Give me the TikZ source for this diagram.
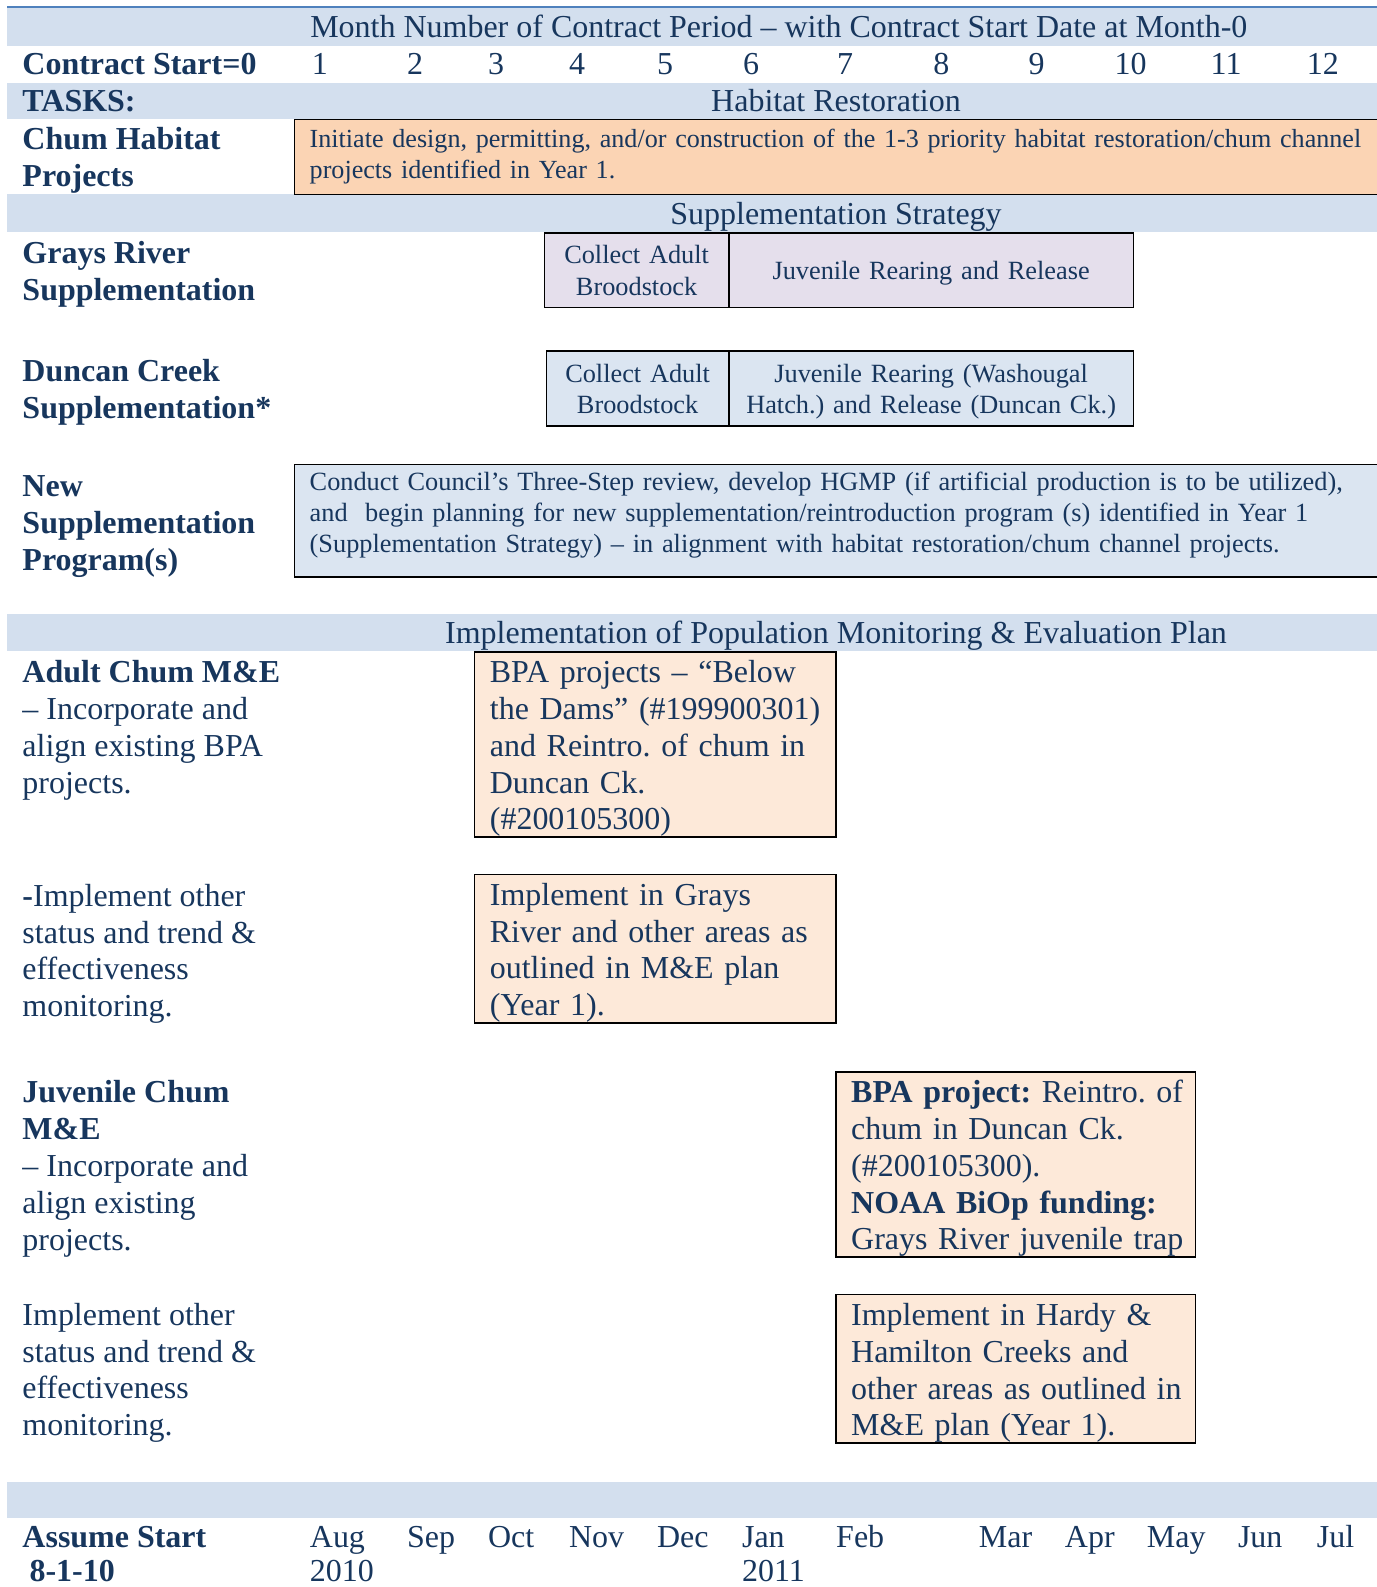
\documentclass[tikz,border=0pt]{standalone}
\usepackage{fontspec}
\setmainfont{Liberation Serif}
\definecolor{navy}{RGB}{23,54,93}
\definecolor{band}{RGB}{211,223,238}
\definecolor{chumfill}{RGB}{251,212,180}
\definecolor{lav}{RGB}{229,223,236}
\definecolor{lblue}{RGB}{219,229,241}
\definecolor{peach}{RGB}{253,233,217}
\definecolor{topline}{RGB}{79,129,189}
\newcommand{\lnx}[1]{\makebox[0pt][l]{#1}}
\newcommand{\topr}{\rule{0pt}{30pt}}
\newcommand{\botr}{\rule[-7pt]{0pt}{7pt}}
\newcommand{\stopr}{\rule{0pt}{27.7pt}}
\tikzset{
  big/.style={font=\fontsize{31.6}{36.5}\selectfont\frenchspacing},
  bigb/.style={font=\fontsize{31.6}{36.5}\selectfont\bfseries},
  small/.style={font=\fontsize{26}{31}\selectfont\frenchspacing},
  txt/.style={text=navy, inner sep=0pt},
  lbl/.style={txt, big, anchor=north west, align=left, yshift=25.55pt},
  lblb/.style={lbl, bigb},
  one/.style={txt, big, anchor=base west},
  oneb/.style={txt, bigb, anchor=base west},
  mid/.style={txt, big, anchor=base},
  gbox/.style={draw=black, line width=1.6pt, text=navy, anchor=north west, outer sep=0pt,
    inner xsep=15pt, inner ysep=0pt, align=left},
  sbox/.style={gbox, inner xsep=4pt, align=center},
}
\begin{document}
\frenchspacing
\begin{tikzpicture}[x=1pt,y=-1pt]
\useasboundingbox (0,0) rectangle (1360,1568);
% bands
\fill[band] (7,8) rectangle (1362,45);
\fill[band] (7,82) rectangle (1362,118);
\fill[band] (7,192) rectangle (1362,229);
\fill[band] (7,607) rectangle (1362,643);
\fill[band] (7,1464) rectangle (1362,1500);
\draw[topline, line width=2pt] (7,7) -- (1362,7);
% header rows
\node[mid] (hdr) at (769.5,37) {Month Number of Contract Period – with Contract Start Date at Month-0};
\node[oneb] (cs) at (22,74) {Contract Start=0};
\foreach \n/\x in {1/308,2/402,3/482,4/562,5/649,6/734,7/827,8/922,9/1016,10/1101,11/1196,12/1291}
  \node[one] (m\n) at (\x,74) {\n};
\node[oneb] (tasks) at (22,110) {TASKS:};
\node[mid] (hab) at (826,110) {Habitat Restoration};
% chum habitat
\node[lblb] (chuml) at (22,148) {\strut Chum Habitat\\Projects};
\node[gbox, small, font=\fontsize{25.8}{31}\selectfont\frenchspacing, fill=chumfill, minimum width=1071pt, minimum height=74pt, text width=1041pt] (chum) at (291,118)
  {\lnx{\strut Initiate design, permitting, and/or construction of the 1-3 priority habitat restoration/chum channel}\\\lnx{projects identified in Year 1.\strut}};
% supplementation
\node[mid] (sup) at (826,222) {Supplementation Strategy};
\node[lblb] (grl) at (22,260) {\strut Grays River\\Supplementation};
\node[sbox, small, fill=lav, minimum width=182pt, minimum height=74pt, text width=174pt] (gr1) at (538,230) {\stopr Collect Adult\\Broodstock\strut};
\node[sbox, small, fill=lav, minimum width=400pt, minimum height=74pt, text width=392pt] (gr2) at (720,230) {\stopr Juvenile Rearing and Release\strut};
\node[lblb] (dcl) at (22,377) {\strut Duncan Creek\\Supplementation*};
\node[sbox, small, fill=lblue, minimum width=180pt, minimum height=74pt, text width=172pt] (dc1) at (540,347) {\stopr Collect Adult\\Broodstock\strut};
\node[sbox, small, fill=lblue, minimum width=400pt, minimum height=74pt, text width=392pt] (dc2) at (720,347) {\stopr Juvenile Rearing (Washougal\\Hatch.) and Release (Duncan Ck.)\strut};
\node[lblb] (nsl) at (22,490) {\strut New\\Supplementation\\Program(s)};
\node[gbox, small, fill=lblue, minimum width=1071pt, minimum height=111pt, text width=1041pt] (ns) at (291,459)
  {\lnx{\strut Conduct Council’s Three-Step review, develop HGMP (if artificial production is to be utilized),}\\\lnx{and~ begin planning for new supplementation/reintroduction program (s) identified in Year 1}\\\lnx{(Supplementation Strategy) – in alignment with habitat restoration/chum channel projects.}\rule[-20pt]{0pt}{20pt}};
% monitoring
\node[mid] (imp) at (826,636) {Implementation of Population Monitoring \& Evaluation Plan};
\node[lbl] (aml) at (22,674) {\strut\textbf{Adult Chum M\&E}\\– Incorporate and\\align existing BPA\\projects.};
\node[gbox, big, fill=peach, minimum width=357pt, minimum height=182pt, text width=327pt] (am1) at (469,644)
  {\lnx{\topr BPA projects – “Below}\\\lnx{the Dams” (\#199900301)}\\\lnx{and Reintro. of chum in}\\\lnx{Duncan Ck.}\\\lnx{(\#200105300)\botr}};
\node[lbl] (ool) at (22,895) {\strut\textbf{-}Implement other\\status and trend \&\\effectiveness\\monitoring.};
\node[gbox, big, fill=peach, minimum width=357pt, minimum height=147pt, text width=327pt] (am2) at (469,864)
  {\lnx{\topr Implement in Grays}\\\lnx{River and other areas as}\\\lnx{outlined in M\&E plan}\\\lnx{(Year 1).\botr}};
\node[lbl] (jml) at (22,1089) {\strut\textbf{Juvenile Chum}\\\textbf{M\&E}\\– Incorporate and\\align existing\\projects.};
\node[gbox, big, fill=peach, minimum width=355pt, minimum height=183pt, text width=325pt] (jm1) at (826,1059)
  {\lnx{\topr\textbf{BPA project:} Reintro. of}\\\lnx{chum in Duncan Ck.}\\\lnx{(\#200105300).}\\\lnx{\textbf{NOAA BiOp funding:}}\\\lnx{Grays River juvenile trap\botr}};
\node[lbl] (jol) at (22,1309) {\strut Implement other\\status and trend \&\\effectiveness\\monitoring.};
\node[gbox, big, fill=peach, minimum width=355pt, minimum height=147pt, text width=325pt] (jm2) at (826,1279)
  {\lnx{\topr Implement in Hardy \&}\\\lnx{Hamilton Creeks and}\\\lnx{other areas as outlined in}\\\lnx{M\&E plan (Year 1).\botr}};
% bottom
\node[oneb] (as) at (22,1529) {Assume Start};
\node[oneb] (asd) at (29,1563) {8-1-10};
\foreach \m/\x in {Aug/306,Sep/402,Oct/482,Nov/562,Dec/649,Jan/733,Feb/826,Mar/967,Apr/1052,May/1133,Jun/1223,Jul/1301}
  \node[one] (mo\m) at (\x,1529) {\m};
\node[one] (y10) at (306,1563) {2010};
\node[one] (y11) at (733,1563) {2011};
\end{tikzpicture}
\end{document}
